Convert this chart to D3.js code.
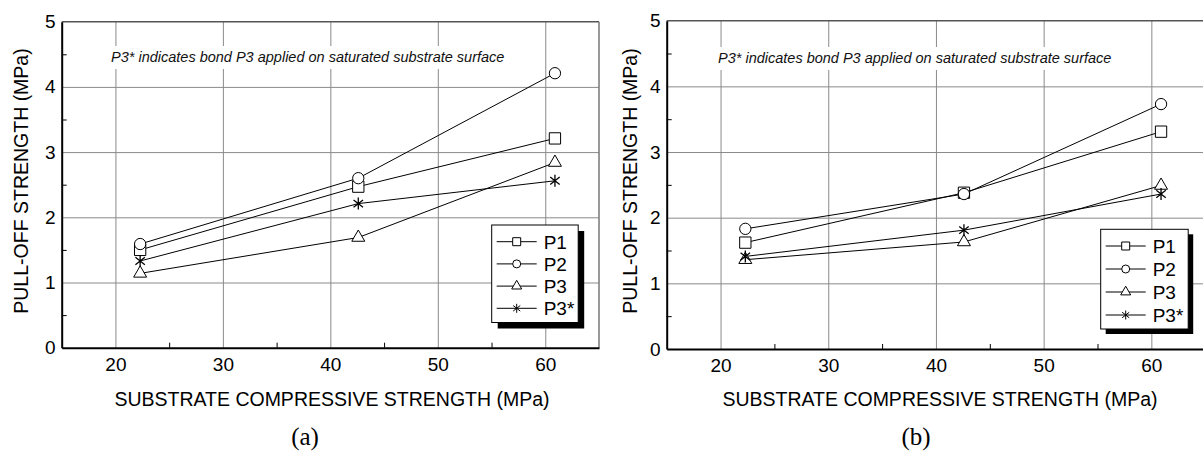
<!DOCTYPE html>
<html lang="en">
<head>
<meta charset="utf-8">
<script src="https://cdn.jsdelivr.net/npm/d3@7"></script>
<style>
  body { margin: 0; background: #fff; }
  text { font-family: Arial, "Liberation Sans", sans-serif; }
</style>
</head>
<body>
<div id="chart"></div>
<script>
    // data
    const compressiveStrength = [22.3, 42.6, 60.9];
    const seriesNames = ["P1", "P2", "P3", "P3*"];
    const seriesSymbols = ["square", "circle", "triangle", "star"];

    // panel (a)
    const pullOffA_P1 = [1.50, 2.47, 3.21];
    const pullOffA_P2 = [1.59, 2.60, 4.21];
    const pullOffA_P3 = [1.14, 1.69, 2.84];
    const pullOffA_P3s = [1.33, 2.21, 2.56];

    // panel (b)
    const pullOffB_P1 = [1.62, 2.38, 3.31];
    const pullOffB_P2 = [1.83, 2.36, 3.73];
    const pullOffB_P3 = [1.36, 1.63, 2.49];
    const pullOffB_P3s = [1.41, 1.81, 2.36];

    const xMajorTicks = [20, 30, 40, 50, 60];
    const xMinorTicks = [25, 35, 45, 55];
    const yMajorTicks = [0, 1, 2, 3, 4, 5];
    const yMinorTicks = [0.5, 1.5, 2.5, 3.5, 4.5];

    const note = "P3* indicates bond P3 applied on saturated substrate surface";
    const xTitle = "SUBSTRATE COMPRESSIVE STRENGTH (MPa)";
    const yTitle = "PULL-OFF STRENGTH (MPa)";

    const svg = d3.select("#chart")
        .append("svg")
        .attr("width", 1203)
        .attr("height", 451);

    // marker path for a given symbol name and size
    function markerPath(name, s) {
        if (name === "star") {
            const r = s / 2;
            const a = 38 * Math.PI / 180;
            const dx = r * Math.cos(a), dy = r * Math.sin(a);
            return `M0,${-r}L0,${r}M${-dx},${-dy}L${dx},${dy}M${-dx},${dy}L${dx},${-dy}`;
        }
        if (name === "square") return d3.symbol(d3.symbolSquare, s * s)();
        if (name === "circle") return d3.symbol(d3.symbolCircle, Math.PI * s * s / 4)();
        return d3.symbol(d3.symbolTriangle, s * s * Math.sqrt(3) / 4)();
    }

    function drawPanel(p) {
        const x = d3.scaleLinear().domain([15, 65]).range([p.left, p.right]);
        const y = d3.scaleLinear().domain([0, 5]).range([p.bottom, p.top]);
        const g = svg.append("g");

        // vertical grid
        g.append("g")
            .attr("transform", `translate(0,${p.bottom})`)
            .call(d3.axisBottom(x).tickValues(xMajorTicks).tickSize(-(p.bottom - p.top)).tickFormat(""))
            .call(s => s.select(".domain").remove())
            .selectAll("line").attr("stroke", "#8a8a8a");

        // horizontal grid
        g.append("g")
            .attr("transform", `translate(${p.left},0)`)
            .call(d3.axisLeft(y).tickValues([1, 2, 3, 4]).tickSize(-(p.right - p.left)).tickFormat(""))
            .call(s => s.select(".domain").remove())
            .selectAll("line").attr("stroke", "#8a8a8a");

        // note with white background
        const noteText = g.append("text")
            .attr("x", p.noteX)
            .attr("y", p.noteY)
            .style("font-size", "14.5px")
            .style("font-style", "italic")
            .attr("fill", "#111")
            .text(note);
        const bb = noteText.node().getBBox();
        g.insert("rect", () => noteText.node())
            .attr("x", bb.x - 4)
            .attr("y", p.noteY - 16)
            .attr("width", bb.width + 8)
            .attr("height", 23)
            .attr("fill", "#fff");

        // frame: top and right
        g.append("line")
            .attr("x1", p.left).attr("x2", p.right)
            .attr("y1", p.top).attr("y2", p.top)
            .attr("stroke", "#555").attr("stroke-width", 1.5);
        g.append("line")
            .attr("x1", p.right).attr("x2", p.right)
            .attr("y1", p.top).attr("y2", p.bottom)
            .attr("stroke", "#777").attr("stroke-width", 1.5);

        // minor ticks inside
        g.append("g")
            .attr("transform", `translate(${p.left},0)`)
            .call(d3.axisRight(y).tickValues(yMinorTicks).tickSize(5).tickFormat(""))
            .call(s => s.select(".domain").remove())
            .selectAll("line").attr("stroke", "#000");
        g.append("g")
            .attr("transform", `translate(0,${p.bottom})`)
            .call(d3.axisTop(x).tickValues(xMinorTicks).tickSize(5).tickFormat(""))
            .call(s => s.select(".domain").remove())
            .selectAll("line").attr("stroke", "#000");

        // axes with labels
        const yAxis = g.append("g")
            .attr("transform", `translate(${p.left},0)`)
            .call(d3.axisLeft(y).tickValues(yMajorTicks).tickSize(0).tickPadding(6).tickFormat(d3.format("d")));
        yAxis.select(".domain").attr("stroke", "#000").attr("stroke-width", 2);
        yAxis.selectAll("text").style("font-size", "19px").attr("fill", "#000");

        const xAxis = g.append("g")
            .attr("transform", `translate(0,${p.bottom})`)
            .call(d3.axisBottom(x).tickValues(xMajorTicks).tickSize(0).tickPadding(10).tickFormat(d3.format("d")));
        xAxis.select(".domain").attr("stroke", "#000").attr("stroke-width", 2);
        xAxis.selectAll("text").style("font-size", "19px").attr("fill", "#000");

        // titles
        g.append("text")
            .attr("x", p.xTitleX)
            .attr("y", 406)
            .attr("text-anchor", "middle")
            .style("font-size", "19.5px")
            .text(xTitle);
        g.append("text")
            .attr("transform", `translate(${p.yTitleX},181) rotate(-90)`)
            .attr("text-anchor", "middle")
            .attr("dy", "0.35em")
            .style("font-size", "19.5px")
            .text(yTitle);
        g.append("text")
            .attr("x", p.labelX)
            .attr("y", 445)
            .attr("text-anchor", "middle")
            .style("font-family", "'Liberation Serif', 'Times New Roman', serif")
            .style("font-size", "25px")
            .text(p.label);

        // series lines then markers
        const line = d3.line().x((d, i) => x(compressiveStrength[i])).y(d => y(d));
        p.series.forEach((vals, k) => {
            g.append("path")
                .datum(vals)
                .attr("d", line)
                .attr("fill", "none")
                .attr("stroke", "#000")
                .attr("stroke-width", 1);
        });
        p.series.forEach((vals, k) => {
            const sym = seriesSymbols[k];
            const size = sym === "triangle" ? 13 : (sym === "star" ? 12 : 11.3);
            g.selectAll(null)
                .data(vals)
                .enter()
                .append("path")
                .attr("transform", (d, i) => `translate(${x(compressiveStrength[i])},${y(d)})`)
                .attr("d", markerPath(sym, size))
                .attr("fill", sym === "star" ? "none" : "#fff")
                .attr("stroke", "#000")
                .attr("stroke-width", sym === "star" ? 1.3 : 1);
        });

        // legend with drop shadow
        const L = p.legend;
        g.append("rect")
            .attr("x", L.x + L.shadow).attr("y", L.y + L.shadow)
            .attr("width", L.w).attr("height", L.h)
            .attr("fill", "#000");
        g.append("rect")
            .attr("x", L.x).attr("y", L.y)
            .attr("width", L.w).attr("height", L.h)
            .attr("fill", "#fff").attr("stroke", "#000").attr("stroke-width", 1);
        seriesNames.forEach((name, k) => {
            const cy = L.y + L.firstRow + k * L.rowStep;
            const lx = L.x + 5;
            g.append("line")
                .attr("x1", lx).attr("x2", lx + 40)
                .attr("y1", cy).attr("y2", cy)
                .attr("stroke", "#000");
            const sym = seriesSymbols[k];
            const size = sym === "triangle" ? 10 : (sym === "star" ? 9 : 8);
            g.append("path")
                .attr("transform", `translate(${lx + 20},${cy})`)
                .attr("d", markerPath(sym, size))
                .attr("fill", sym === "star" ? "none" : "#fff")
                .attr("stroke", "#000");
            g.append("text")
                .attr("x", lx + 47)
                .attr("y", cy)
                .attr("dy", "0.36em")
                .style("font-size", "19px")
                .text(name);
        });
    }

    drawPanel({
        left: 61.7, right: 599, top: 21.7, bottom: 347.7,
        noteX: 111, noteY: 62,
        xTitleX: 332, yTitleX: 21, labelX: 305, label: "(a)",
        series: [pullOffA_P1, pullOffA_P2, pullOffA_P3, pullOffA_P3s],
        legend: { x: 491.7, y: 225, w: 86.5, h: 97.5, shadow: 6, firstRow: 16.7, rowStep: 22.2 }
    });

    drawPanel({
        left: 666.7, right: 1205.2, top: 20.7, bottom: 349,
        noteX: 718, noteY: 63,
        xTitleX: 940, yTitleX: 630, labelX: 916, label: "(b)",
        series: [pullOffB_P1, pullOffB_P2, pullOffB_P3, pullOffB_P3s],
        legend: { x: 1100.7, y: 229.3, w: 87.5, h: 99.7, shadow: 5, firstRow: 16.7, rowStep: 23 }
    });
</script>
</body>
</html>
